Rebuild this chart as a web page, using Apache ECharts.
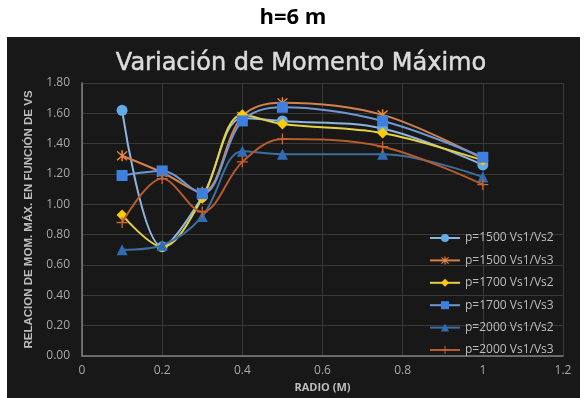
<!DOCTYPE html>
<html>
<head>
<meta charset="utf-8">
<script src="https://cdn.jsdelivr.net/npm/echarts@6/dist/echarts.min.js"></script>
<style>
  html, body { margin: 0; padding: 0; background: #ffffff; }
  #chart { width: 587px; height: 398px; }
</style>
</head>
<body>
<div id="chart"></div>
<script>
// Radius values (m) along the horizontal axis
const radios = [0.1, 0.2, 0.3, 0.4, 0.5, 0.75, 1.0];

// Ratio of maximum moment for each case
const p1500_vs2 = [1.62, 0.72, 1.05, 1.57, 1.55, 1.50, 1.26];
const p1500_vs3 = [1.32, 1.21, 1.08, 1.58, 1.67, 1.59, 1.30];
const p1700_vs2 = [0.93, 0.72, 1.04, 1.59, 1.53, 1.47, 1.29];
const p1700_vs3 = [1.19, 1.22, 1.07, 1.55, 1.64, 1.55, 1.31];
const p2000_vs2 = [0.70, 0.73, 0.92, 1.35, 1.33, 1.33, 1.18];
const p2000_vs3 = [0.88, 1.17, 0.95, 1.28, 1.43, 1.38, 1.13];

const seriesNames = [
  'p=1500 Vs1/Vs2', 'p=1500 Vs1/Vs3',
  'p=1700 Vs1/Vs2', 'p=1700 Vs1/Vs3',
  'p=2000 Vs1/Vs2', 'p=2000 Vs1/Vs3'
];

// Custom marker shapes
const asteriskPath = 'path://M0.6 1.4L1.4 0.6L9.4 8.6L8.6 9.4Z M8.6 0.6L9.4 1.4L1.4 9.4L0.6 8.6Z M4.4 0H5.6V10H4.4Z';
const plusPath = 'path://M4.4 0H5.6V4.4H10V5.6H5.6V10H4.4V5.6H0V4.4H4.4Z';

const styles = [
  { data: p1500_vs2, line: '#8fb5de', mark: '#62aaea', symbol: 'circle', size: 11 },
  { data: p1500_vs3, line: '#d2824a', mark: '#f28a3a', symbol: asteriskPath, size: 11 },
  { data: p1700_vs2, line: '#e4d243', mark: '#ffcc00', symbol: 'diamond', size: 11 },
  { data: p1700_vs3, line: '#6e98d4', mark: '#3f7fdf', symbol: 'rect', size: 11 },
  { data: p2000_vs2, line: '#3f6e9e', mark: '#2f6db3', symbol: 'triangle', size: 11 },
  { data: p2000_vs3, line: '#b65b2c', mark: '#cc6330', symbol: plusPath, size: 11 }
];

const series = styles.map((s, i) => ({
  name: seriesNames[i],
  type: 'line',
  smooth: 0.35,
  data: radios.map((r, k) => [r, s.data[k]]),
  symbol: s.symbol,
  symbolSize: s.size,
  showAllSymbol: true,
  lineStyle: { color: s.line, width: 2 },
  itemStyle: { color: s.mark },
  z: 3 + i
}));

const chart = echarts.init(document.getElementById('chart'), null, { renderer: 'canvas' });
chart.setOption({
  backgroundColor: '#ffffff',
  animation: false,
  graphic: [
    {
      type: 'rect', z: -10, silent: true,
      shape: { x: 7, y: 37, width: 573, height: 361 },
      style: { fill: '#181818' }
    },
    {
      type: 'text', x: 293, y: 18,
      style: { text: 'h=6 m', font: 'bold 22px "Open Sans"', fill: '#000000',
        align: 'center', verticalAlign: 'middle' }
    },
    {
      type: 'text', x: 301, y: 64,
      style: {
        text: 'Variación de Momento Máximo',
        font: '24px "DejaVu Sans"', fill: '#dcdcdc',
        stroke: '#dcdcdc', lineWidth: 0.5,
        align: 'center', verticalAlign: 'middle'
      }
    }
  ],
  grid: { left: 82, right: 24, top: 83, bottom: 42 },
  legend: {
    orient: 'vertical',
    left: 424, top: 227,
    itemWidth: 30, itemHeight: 10, itemGap: 10.4,
    textStyle: { color: '#bdbdbd', fontSize: 12, fontFamily: 'Open Sans' },
    data: seriesNames
  },
  xAxis: {
    type: 'value', min: 0, max: 1.2, interval: 0.2,
    name: 'RADIO (M)', nameLocation: 'middle', nameGap: 22,
    nameTextStyle: { color: '#bdbdbd', fontWeight: 'bold', fontSize: 11, fontFamily: 'Open Sans' },
    axisLine: { show: true, lineStyle: { color: '#808080', width: 1.5 } },
    axisTick: { show: false },
    axisLabel: { color: '#a8a8a8', fontSize: 12, fontFamily: 'Open Sans', margin: 9,
      formatter: v => String(+v.toFixed(1)) },
    splitLine: { show: true, lineStyle: { color: '#3a3a3a', width: 1 } }
  },
  yAxis: {
    type: 'value', min: 0, max: 1.8, interval: 0.2,
    name: 'RELACION DE MOM. MÁX. EN FUNCIÓN DE VS', nameLocation: 'middle', nameGap: 47,
    nameTextStyle: { color: '#bdbdbd', fontWeight: 'bold', fontSize: 11.5, fontFamily: 'Liberation Sans' },
    axisLine: { show: true, lineStyle: { color: '#808080', width: 1.5 } },
    axisTick: { show: false },
    axisLabel: { color: '#a8a8a8', fontSize: 12, fontFamily: 'Open Sans', margin: 12,
      formatter: v => v.toFixed(2) },
    splitLine: { show: true, lineStyle: { color: '#3a3a3a', width: 1 } }
  },
  series: series
});
</script>
</body>
</html>
